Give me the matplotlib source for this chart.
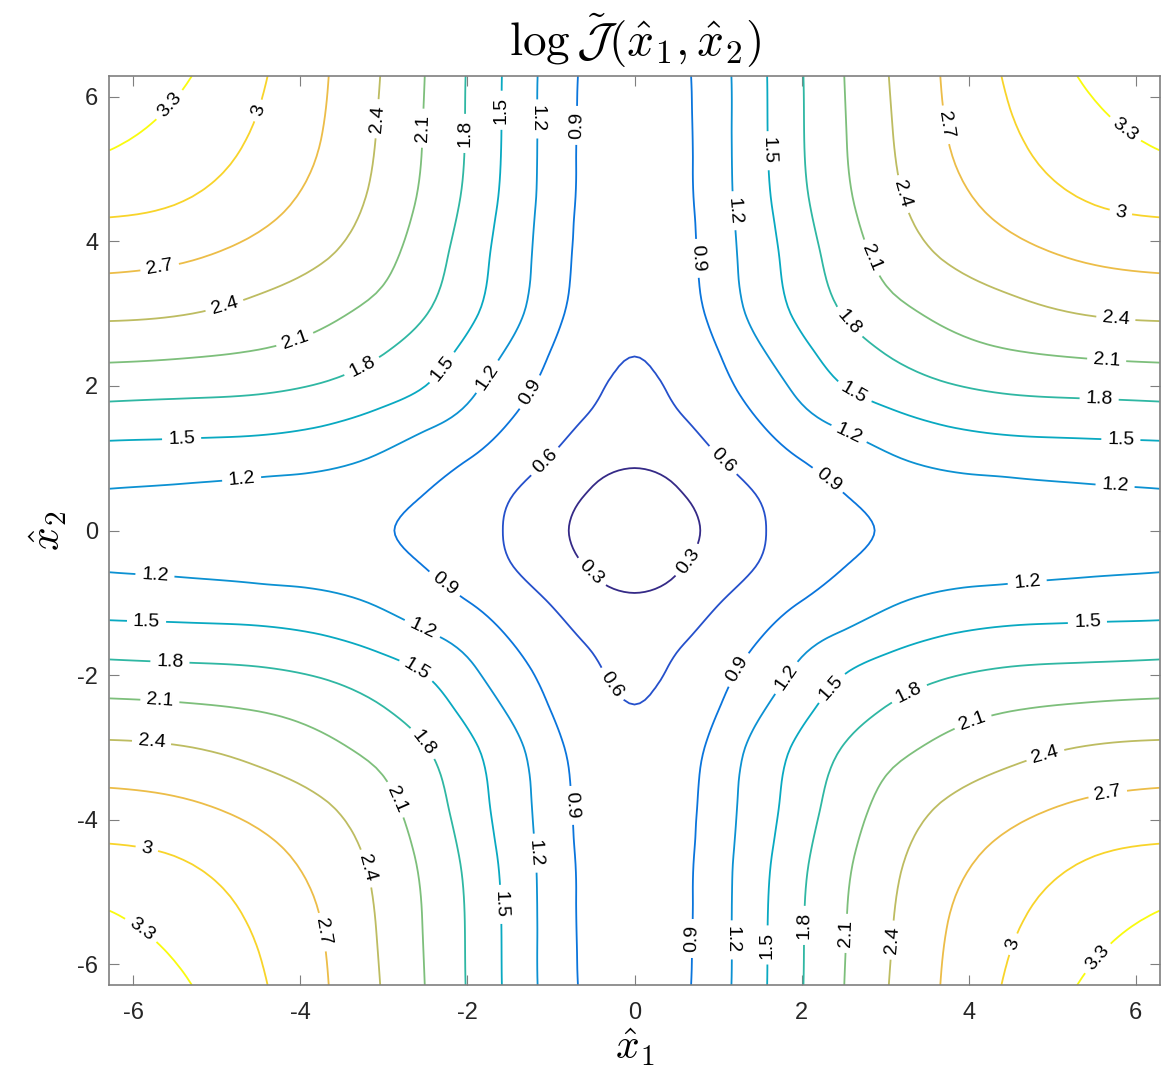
import numpy as np
import matplotlib
matplotlib.use("Agg")
import matplotlib.pyplot as plt
import matplotlib.tri as mtri
from matplotlib.colors import LinearSegmentedColormap

# grid coordinates for one quadrant (x1, x2 >= 0), mirrored to the other three
x_hat = [0.0, 0.5, 1.0, 1.5, 2.0, 2.5, 3.0, 3.75, 4.5, 5.4, 2 * np.pi]

# log J values, rows = x2 (same grid), cols = x1
log_j_quadrant = [
    [0.12, 0.20, 0.385, 0.575, 0.72, 0.83, 0.92, 0.98, 1.03, 1.07, 1.10],
    [0.19, 0.27, 0.45, 0.615, 0.76, 0.895, 0.99, 1.065, 1.11, 1.15, 1.176],
    [0.34, 0.41, 0.59, 0.75, 0.91, 1.04, 1.16, 1.286, 1.33, 1.356, 1.376],
    [0.45, 0.55, 0.72, 0.90, 1.107, 1.26, 1.39, 1.53, 1.60, 1.625, 1.641],
    [0.54, 0.65, 0.82, 1.04, 1.28, 1.50, 1.64, 1.78, 1.86, 1.895, 1.923],
    [0.61, 0.68, 0.90, 1.175, 1.43, 1.665, 1.82, 2.00, 2.10, 2.165, 2.197],
    [0.64, 0.73, 1.00, 1.30, 1.57, 1.81, 1.99, 2.17, 2.30, 2.41, 2.45],
    [0.67, 0.77, 1.054, 1.36, 1.66, 1.94, 2.17, 2.42, 2.58, 2.72, 2.78],
    [0.68, 0.79, 1.08, 1.405, 1.737, 2.03, 2.287, 2.59, 2.80, 2.985, 3.06],
    [0.69, 0.80, 1.09, 1.433, 1.78, 2.078, 2.348, 2.699, 2.958, 3.18, 3.34],
    [0.69, 0.81, 1.095, 1.437, 1.786, 2.094, 2.377, 2.74, 3.04, 3.33, 3.57],
]

levels = [0.3, 0.6, 0.9, 1.2, 1.5, 1.8, 2.1, 2.4, 2.7, 3.0, 3.3]
ticks = [-6, -4, -2, 0, 2, 4, 6]

# where the inline labels sit
label_spots = [
    (-5.51, 5.83), (-4.44, 5.78), (-3.05, 5.69), (-2.49, 5.56), (-2.04, 5.49),
    (-1.58, 5.81), (-1.15, 5.69), (-0.67, 5.60), (-5.68, 3.62), (-4.89, 3.04),
    (-4.05, 2.59), (-3.25, 2.24), (-2.29, 2.24), (-1.69, 2.07), (-1.15, 1.84),
    (-5.42, 1.27), (-4.70, 0.69), (-1.05, 0.93),
    (1.58, 5.25), (1.18, 4.42), (0.72, 3.76), (3.68, 5.60), (3.15, 4.63),
    (2.77, 3.74), (2.52, 2.83), (2.62, 1.89), (2.53, 1.25), (2.26, 0.62),
    (1.03, 0.94), (5.86, 5.53), (5.82, 4.40), (5.76, 2.93), (5.65, 2.35),
    (5.56, 1.80), (5.82, 1.24), (5.75, 0.60),
    (-0.49, -0.55), (0.61, -0.39),
    (-5.74, -0.63), (-5.84, -1.27), (-5.56, -1.82), (-5.68, -2.35), (-5.78, -2.93),
    (-5.84, -4.42), (-5.89, -5.50), (-2.24, -0.69), (-2.52, -1.31), (-2.60, -1.91),
    (-2.52, -2.93), (-2.82, -3.70), (-3.20, -4.67), (-3.72, -5.55), (-0.29, -2.14),
    (-0.74, -3.80), (-1.18, -4.46), (-1.62, -5.17),
    (1.15, -1.86), (1.72, -1.96), (2.32, -2.14), (3.27, -2.21), (4.03, -2.58),
    (4.90, -3.04), (5.66, -3.62), (4.70, -0.72), (5.42, -1.27), (0.67, -5.64),
    (1.17, -5.66), (1.59, -5.73), (2.05, -5.46), (2.53, -5.57), (3.05, -5.66),
    (4.49, -5.70), (5.50, -5.87),
]

# parula-like colormap
parula = LinearSegmentedColormap.from_list("parula", [
    (0.2081, 0.1663, 0.5292), (0.1707, 0.2919, 0.7792), (0.0165, 0.4266, 0.8786),
    (0.0779, 0.5040, 0.8384), (0.0265, 0.6137, 0.8135), (0.0384, 0.6743, 0.7436),
    (0.1801, 0.7177, 0.6424), (0.4420, 0.7481, 0.5033), (0.6834, 0.7435, 0.4044),
    (0.8185, 0.7327, 0.3498), (0.9938, 0.7455, 0.2403), (0.9697, 0.8481, 0.1475),
    (0.9763, 0.9831, 0.0538)])

plt.rcParams["font.family"] = ["Liberation Sans", "DejaVu Sans"]
plt.rcParams["mathtext.fontset"] = "cm"
plt.rcParams["axes.unicode_minus"] = False

# mirror the quadrant to the full domain
g = np.array(x_hat)
coords = np.concatenate([-g[:0:-1], g])
q = np.array(log_j_quadrant)
half = np.hstack([q[:, :0:-1], q])
z = np.vstack([half[:0:-1], half])

# triangles split along the diagonal that follows the contours in each quadrant
n = len(coords)
X, Y = np.meshgrid(coords, coords)
triangles = []
for j in range(n - 1):
    for i in range(n - 1):
        a, b = j * n + i, j * n + i + 1
        c, d = (j + 1) * n + i, (j + 1) * n + i + 1
        same_sign = (coords[i] + coords[i + 1]) * (coords[j] + coords[j + 1]) > 0
        if same_sign:
            triangles += [[a, b, c], [b, d, c]]
        else:
            triangles += [[a, b, d], [a, d, c]]
tri = mtri.Triangulation(X.ravel(), Y.ravel(), triangles)
interp = mtri.CubicTriInterpolator(tri, z.ravel(), kind="min_E")
tri_fine, z_fine = mtri.UniformTriRefiner(tri).refine_field(
    z.ravel(), triinterpolator=interp, subdiv=3)

fig = plt.figure(figsize=(11.76, 10.74), dpi=100)
ax = fig.add_axes([0.0931, 0.0829, 0.8929, 0.8463])
ax.set_xlim(-2 * np.pi, 2 * np.pi)
ax.set_ylim(-2 * np.pi, 2 * np.pi)

cs = ax.tricontour(tri_fine, z_fine, levels=levels, cmap=parula, linewidths=1.3)
ax.clabel(cs, manual=label_spots, inline=True, inline_spacing=6,
          fontsize=14, fmt="%g", colors="k")

ax.set_xticks(ticks)
ax.set_yticks(ticks)
ax.tick_params(direction="in", length=7, width=0.8, top=True, right=True,
               color="#7f7f7f", labelcolor="#262626", labelsize=17)
ax.tick_params(axis="x", pad=12)
ax.tick_params(axis="y", pad=8)
for s in ax.spines.values():
    s.set_color("#7f7f7f")
    s.set_linewidth(1.2)

ax.set_title(r"$\log\tilde{\mathcal{J}}(\hat{x}_1,\hat{x}_2)$", fontsize=34, pad=14.5)
ax.set_xlabel(r"$\hat{x}_1$", fontsize=30, labelpad=2)
ax.set_ylabel(r"$\hat{x}_2$", fontsize=30, labelpad=6)

plt.savefig("out.png", dpi=100)
